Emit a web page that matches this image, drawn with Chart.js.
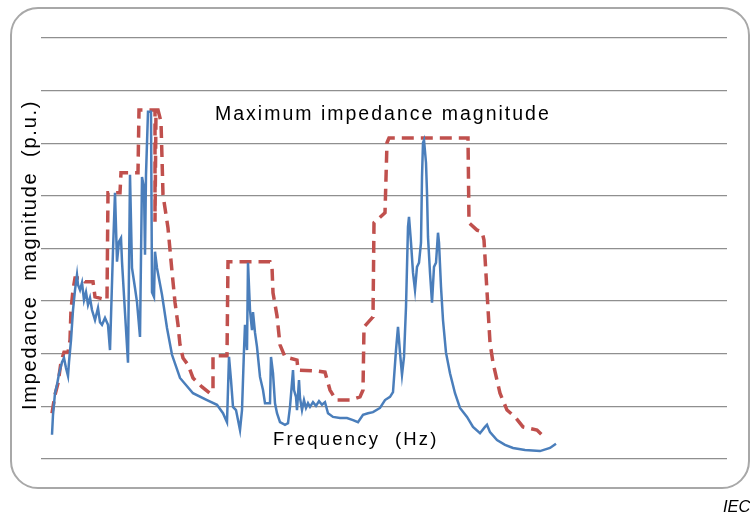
<!DOCTYPE html>
<html>
<head>
<meta charset="utf-8">
<script src="https://cdn.jsdelivr.net/npm/chart.js@4.4.1/dist/chart.umd.min.js"></script>
<style>
  html, body { margin: 0; padding: 0; background: #fff; width: 750px; height: 515px; overflow: hidden; }
  #frame {
    position: absolute; left: 10px; top: 7px; width: 740px; height: 482px;
    border: 2px solid #a8a8a8; border-radius: 28px; box-sizing: border-box;
  }
  canvas { position: absolute; left: 0; top: 0; }
</style>
</head>
<body>
<div id="frame"></div>
<canvas id="Impedance_Chart" width="750" height="515"></canvas>
<script>
// measured impedance (frequency index, p.u.)
const responseFreq = [11, 12, 14, 16, 18, 21, 23, 25, 27, 28, 30, 32, 34, 36, 37, 39, 41, 43, 45, 47,
  49, 51, 54, 57, 59, 61, 64, 67, 69, 72, 74, 76, 78, 80, 81, 84, 87, 89, 91, 94,
  96, 99, 101, 103, 104, 105, 107, 110, 111, 113, 114, 116, 121, 126, 131, 139, 152, 166, 176, 182,
  186, 188, 190, 192, 195, 197, 199, 201, 203, 204, 206, 207, 209, 211, 212, 214, 216, 219, 222, 224,
  229, 230, 232, 234, 236, 239, 244, 247, 249, 252, 253, 255, 256, 258, 259, 261, 263, 265, 267, 269,
  272, 275, 278, 281, 284, 287, 292, 299, 306, 312, 317, 322, 327, 332, 339, 344, 349, 352, 355, 357,
  359, 361, 363, 365, 367, 368, 370, 372, 374, 376, 378, 380, 381, 382, 383, 385, 386, 387, 389, 391,
  393, 395, 397, 398, 400, 402, 405, 409, 414, 419, 426, 432, 439, 444, 446, 449, 456, 464, 472, 484,
  499, 509, 515];
const responseZ = [0.46, 0.84, 1.25, 1.41, 1.62, 1.84, 1.92, 1.73, 1.58, 1.84, 2.26, 2.83, 3.21, 3.50, 3.31, 3.21, 3.35, 3.02, 3.17, 2.93,
  3.06, 2.83, 2.64, 2.87, 2.60, 2.55, 2.68, 2.55, 2.07, 3.97, 5.06, 3.75, 4.13, 4.20, 3.75, 2.78, 1.83, 5.40, 3.63, 3.25,
  2.98, 2.32, 5.36, 5.15, 3.88, 5.40, 6.60, 6.60, 3.17, 3.08, 3.94, 3.63, 3.12, 2.49, 1.98, 1.54, 1.25, 1.12, 1.03, 0.87,
  0.70, 1.94, 1.50, 0.99, 0.93, 0.74, 0.55, 0.93, 2.07, 2.55, 2.07, 3.73, 2.83, 2.45, 2.79, 2.40, 2.13, 1.56, 1.31, 1.06,
  1.06, 1.94, 1.63, 1.06, 0.87, 0.70, 0.65, 0.68, 0.99, 1.69, 1.31, 1.18, 0.93, 1.50, 1.16, 0.93, 1.12, 0.97, 1.06, 0.99,
  1.08, 1.01, 1.10, 1.03, 1.08, 0.87, 0.80, 0.78, 0.78, 0.74, 0.70, 0.84, 0.87, 0.89, 0.97, 1.12, 1.18, 1.27, 2.07, 2.51,
  2.02, 1.60, 1.94, 2.89, 4.41, 4.60, 4.11, 3.54, 3.21, 3.65, 3.73, 4.11, 5.36, 6.01, 6.06, 5.63, 5.06, 4.22, 3.54, 2.97,
  3.65, 3.73, 4.30, 4.11, 3.27, 2.64, 2.02, 1.63, 1.25, 0.97, 0.80, 0.61, 0.49, 0.61, 0.65, 0.51, 0.36, 0.27, 0.21, 0.17,
  0.15, 0.21, 0.29];

// maximum impedance envelope
const envelopeFreq = [11, 14, 17, 20, 23, 27, 29, 30, 32, 34, 41, 44, 52, 54, 66, 67, 79, 80, 97, 98,
  114, 114, 115, 117, 120, 122, 127, 131, 134, 137, 139, 142, 147, 152, 161, 169, 172, 172, 186, 187,
  229, 231, 232, 236, 239, 244, 256, 257, 277, 284, 289, 295, 309, 319, 322, 323, 332, 333, 344, 346,
  348, 427, 428, 436, 441, 443, 449, 452, 459, 466, 474, 482, 496, 504];
const envelopeZ = [0.87, 1.22, 1.44, 1.84, 2.03, 2.03, 2.26, 2.83, 3.21, 3.44, 3.44, 3.37, 3.37, 3.08, 3.02, 5.06, 5.06, 5.44, 5.44, 6.63,
  6.63, 4.51, 6.63, 6.63, 6.41, 5.02, 4.39, 3.56, 2.98, 2.55, 2.17, 1.92, 1.79, 1.54, 1.37, 1.25, 1.31, 1.96, 1.96, 3.75,
  3.75, 3.65, 3.16, 2.72, 2.17, 1.94, 1.88, 1.69, 1.67, 1.65, 1.31, 1.12, 1.12, 1.18, 1.31, 2.51, 2.70, 4.49, 4.68, 6.01,
  6.10, 6.10, 4.49, 4.35, 4.32, 4.16, 2.21, 1.83, 1.25, 0.93, 0.80, 0.61, 0.55, 0.40];

const gridSteps = [0, 1, 2, 3, 4, 5, 6, 7, 8];

const FONT = '"Liberation Sans", Arial, sans-serif';

// labels drawn inside the plot like the original figure
const labelPlugin = {
    id: 'labels',
    afterDraw(chart) {
        const ctx = chart.ctx;
        ctx.save();
        ctx.fillStyle = '#000';
        ctx.textBaseline = 'alphabetic';
        ctx.textAlign = 'left';
        ctx.font = '19.5px ' + FONT;
        ctx.letterSpacing = '2px';
        ctx.fillText('Maximum impedance magnitude', 215, 120);
        ctx.font = '18.5px ' + FONT;
        ctx.letterSpacing = '2.2px';
        ctx.fillText('Frequency  (Hz)', 273, 445);
        ctx.font = 'italic 16.5px ' + FONT;
        ctx.letterSpacing = '0px';
        ctx.fillText('IEC', 723, 512);
        ctx.translate(36, 410);
        ctx.rotate(-Math.PI / 2);
        ctx.font = '20px ' + FONT;
        ctx.letterSpacing = '1.75px';
        ctx.fillText('Impedance  magnitude  (p.u.)', 0, 0);
        ctx.restore();
    }
};

const ctxImp = document.getElementById('Impedance_Chart').getContext('2d');
new Chart(ctxImp, {
    type: 'line',
    data: {
        datasets: [{
            label: 'Impedance',
            data: responseFreq.map((f, i) => ({ x: f, y: responseZ[i] })),
            borderColor: '#4a7ebb',
            borderWidth: 2.5,
            pointRadius: 0,
            tension: 0,
            fill: false
        }, {
            label: 'Maximum impedance magnitude',
            data: envelopeFreq.map((f, i) => ({ x: f, y: envelopeZ[i] })),
            borderColor: '#c0504d',
            borderWidth: 3.5,
            borderDash: [12, 7],
            pointRadius: 0,
            tension: 0,
            fill: false
        }]
    },
    options: {
        responsive: false,
        animation: false,
        devicePixelRatio: 1,
        layout: { padding: { left: 41, right: 23, top: 38, bottom: 56 } },
        plugins: {
            legend: { display: false },
            tooltip: { enabled: false }
        },
        scales: {
            x: {
                type: 'linear',
                min: 0,
                max: 686,
                display: false
            },
            y: {
                min: gridSteps[0],
                max: gridSteps[gridSteps.length - 1],
                afterBuildTicks: (axis) => { axis.ticks = gridSteps.map(v => ({ value: v })); },
                ticks: { display: false },
                grid: { color: '#8f8f8f', lineWidth: 1.3, drawTicks: false },
                border: { display: false }
            }
        }
    },
    plugins: [labelPlugin]
});
</script>
</body>
</html>
